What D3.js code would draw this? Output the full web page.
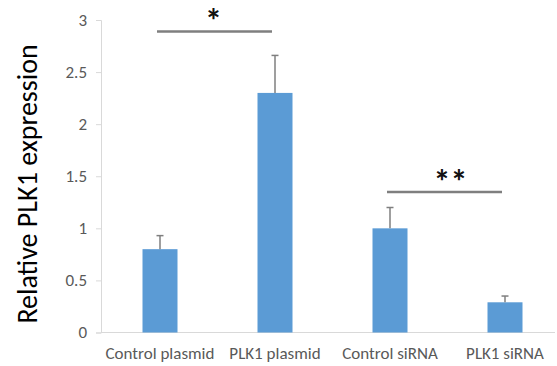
<!DOCTYPE html>
<html>
<head>
<meta charset="utf-8">
<script src="https://cdn.jsdelivr.net/npm/d3@7"></script>
<style>
  body { margin: 0; background: #fff; }
  text { font-family: Calibri, Carlito, "Open Sans", sans-serif; }
</style>
</head>
<body>
<div class="canvas"></div>
<script>
// data
const categories = ['Control plasmid', 'PLK1 plasmid', 'Control siRNA', 'PLK1 siRNA']
const values = [0.8, 2.3, 1.0, 0.29]
const errors = [0.13, 0.36, 0.2, 0.06]
const yTicks = [0, 0.5, 1, 1.5, 2, 2.5, 3]
const sigPairs = [
  { from: 'Control plasmid', to: 'PLK1 plasmid', level: 2.89, label: '*' },
  { from: 'Control siRNA', to: 'PLK1 siRNA', level: 1.35, label: '**' }
]

const svg = d3.select('.canvas')
  .append('svg')
    .attr('width', 557)
    .attr('height', 366)

const y = d3.scaleLinear()
  .domain([0, 3])
  .range([332.5, 20])

const x = d3.scaleBand()
  .domain(categories)
  .range([102.5, 562.5])
  .padding(0)

const barWidth = 35
const mid = d => x(d) + x.bandwidth() / 2

// axes
const yAxis = d3.axisLeft(y)
  .tickValues(yTicks)
  .tickSize(5)
  .tickPadding(9)
  .tickFormat(d => d)

const yAxisGroup = svg.append('g')
  .attr('transform', 'translate(101,0)')
  .call(yAxis)
yAxisGroup.select('.domain').attr('stroke', '#d9d9d9')
yAxisGroup.selectAll('.tick line').attr('stroke', '#d9d9d9')
yAxisGroup.selectAll('text')
  .attr('fill', '#595959')
  .style('font-size', '17px')

svg.append('line')
  .attr('x1', 101).attr('x2', 555)
  .attr('y1', y(0)).attr('y2', y(0))
  .attr('stroke', '#d9d9d9')

// bars
svg.selectAll('rect.bar')
  .data(categories)
  .enter()
  .append('rect')
    .attr('class', 'bar')
    .attr('x', d => mid(d) - barWidth / 2)
    .attr('width', barWidth)
    .attr('y', (d, i) => y(values[i]))
    .attr('height', (d, i) => y(0) - y(values[i]))
    .attr('fill', '#5b9bd5')

// error bars
const err = svg.selectAll('g.err')
  .data(categories)
  .enter()
  .append('g')
    .attr('class', 'err')
    .attr('stroke', '#7f7f7f')
    .attr('stroke-width', 1.5)
err.append('line')
  .attr('x1', d => mid(d)).attr('x2', d => mid(d))
  .attr('y1', (d, i) => y(values[i]))
  .attr('y2', (d, i) => y(values[i] + errors[i]))
err.append('line')
  .attr('x1', d => mid(d) - 3.5).attr('x2', d => mid(d) + 3.5)
  .attr('y1', (d, i) => y(values[i] + errors[i]))
  .attr('y2', (d, i) => y(values[i] + errors[i]))

// category labels
svg.selectAll('text.cat')
  .data(categories)
  .enter()
  .append('text')
    .attr('class', 'cat')
    .attr('x', d => mid(d))
    .attr('y', 359)
    .attr('text-anchor', 'middle')
    .attr('fill', '#595959')
    .style('font-size', '17px')
    .text(d => d)

// significance markers
svg.selectAll('line.sig')
  .data(sigPairs)
  .enter()
  .append('line')
    .attr('class', 'sig')
    .attr('x1', d => mid(d.from) - 3)
    .attr('x2', d => mid(d.to) - 3)
    .attr('y1', d => y(d.level))
    .attr('y2', d => y(d.level))
    .attr('stroke', '#7f7f7f')
    .attr('stroke-width', 2.5)

svg.selectAll('text.sig')
  .data(sigPairs)
  .enter()
  .append('text')
    .attr('class', 'sig')
    .attr('x', d => (mid(d.from) + mid(d.to)) / 2 - 4 + (d.label.length - 1) * 7)
    .attr('y', d => y(d.level) + 1)
    .attr('text-anchor', 'middle')
    .attr('fill', '#111')
    .style('font-size', '34px')
    .style('font-weight', 'bold')
    .text(d => d.label)

// y title
svg.append('text')
  .attr('transform', 'translate(37,184) rotate(-90)')
  .attr('text-anchor', 'middle')
  .attr('fill', '#000')
  .style('font-size', '28px')
  .text('Relative PLK1 expression')
</script>
</body>
</html>
